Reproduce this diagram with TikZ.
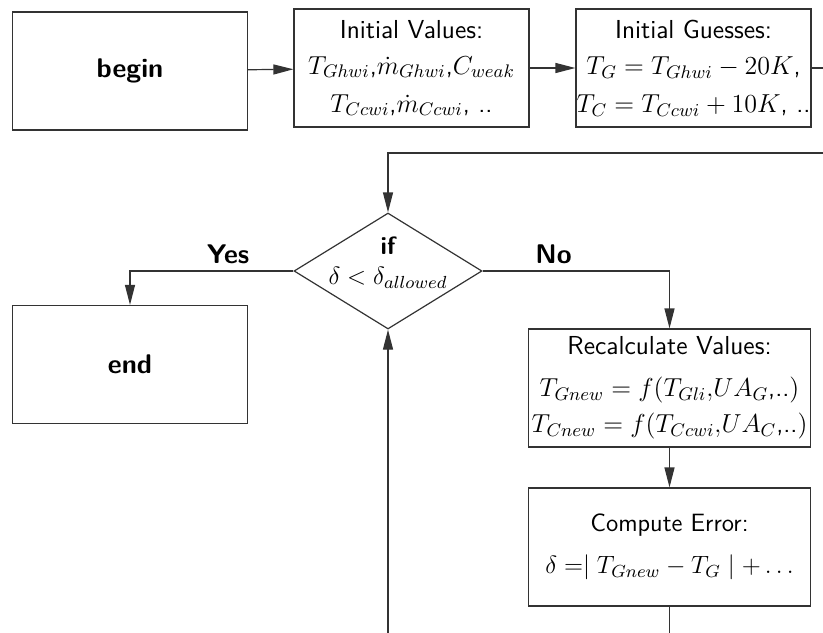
\RequirePackage{fix-cm}
\documentclass[tikz,border=0pt]{standalone}
\usepackage{amsmath}
\usetikzlibrary{shapes.geometric,arrows.meta}

\begin{document}
\begin{tikzpicture}[x=0.5pt, y=-0.5pt, font=\fontsize{13}{14}\selectfont\sffamily,
    box/.style={draw=black!80, line width=0.6pt, minimum width=117.5pt,
                minimum height=59pt, align=center, inner xsep=0pt, inner ysep=1pt},
    widebox/.style={box, minimum width=141pt},
    test/.style={draw=black!80, line width=0.6pt, diamond, minimum width=94pt,
                 minimum height=58pt, inner sep=0pt},
    arr/.style={draw=black!80, line width=0.6pt, -{Triangle[length=10pt,width=5pt]}},
    lbl/.style={font=\fontsize{13.5}{14}\selectfont\sffamily\bfseries}]

    % 1. Frame (the chart runs past the right and bottom edges)
    \useasboundingbox (0,0) rectangle (823,632);
    \clip (0,0) rectangle (823,632);

    % 2. Boxes
    \node[box, font=\fontsize{13.5}{14}\selectfont\sffamily] (begin) at (130,71) {\bfseries begin};
    \node[box] (init) at (411.5,68) {Initial Values:\\[4pt]
        $T_{Ghwi}$,$\dot{m}_{Ghwi}$,$C_{weak}$\\[5pt]
        $T_{Ccwi}$,$\dot{m}_{Ccwi}$, ..};
    \node[box] (guess) at (693.5,68) {Initial Guesses:\\[4pt]
        $T_G = T_{Ghwi} - 20K$,\\[5pt]
        $T_C = T_{Ccwi} + 10K$, ..};
    \node[test] (check) at (388,271) {};
    \node[align=center, font=\fontsize{12.5}{13}\selectfont\sffamily] (checktxt) at (388,263)
        {\bfseries if\\[2pt] $\delta < \delta_{allowed}$};
    \node[box, font=\fontsize{13.5}{14}\selectfont\sffamily] (end) at (130,364.5) {\bfseries end};
    \node[widebox] (recalc) at (669.5,388) {Recalculate Values:\\[7pt]
        $T_{Gnew} = f(T_{Gli}{,}UA_G$,..$)$\\[4pt]
        $T_{Cnew} = f(T_{Ccwi}{,}UA_C$,..$)$};
    \node[widebox, font=\fontsize{12.5}{14}\selectfont\sffamily] (error) at (669.5,547)
        {Compute Error:\\[7pt]
        $\delta =\mid T_{Gnew} - T_G \mid + \ldots$};

    % 3. Turning points of the loop
    \coordinate (loopR) at (845,153);
    \coordinate (loopB) at (669.5,665);

    % 4. Connectors
    \draw[arr] (begin) -- (init);
    \draw[arr] (init) -- (guess);
    \draw[arr] (guess.east) -| (loopR) -| (check.north);
    \draw[arr] (check.west) -| node[lbl, above, pos=0.2] {Yes} (end.north);
    \draw[arr] (check.east) -| node[lbl, above, pos=0.19] {No} (recalc.north);
    \draw[arr] (recalc) -- (error);
    \draw[arr] (error.south) -- (loopB) -| (check.south);

\end{tikzpicture}
\end{document}
